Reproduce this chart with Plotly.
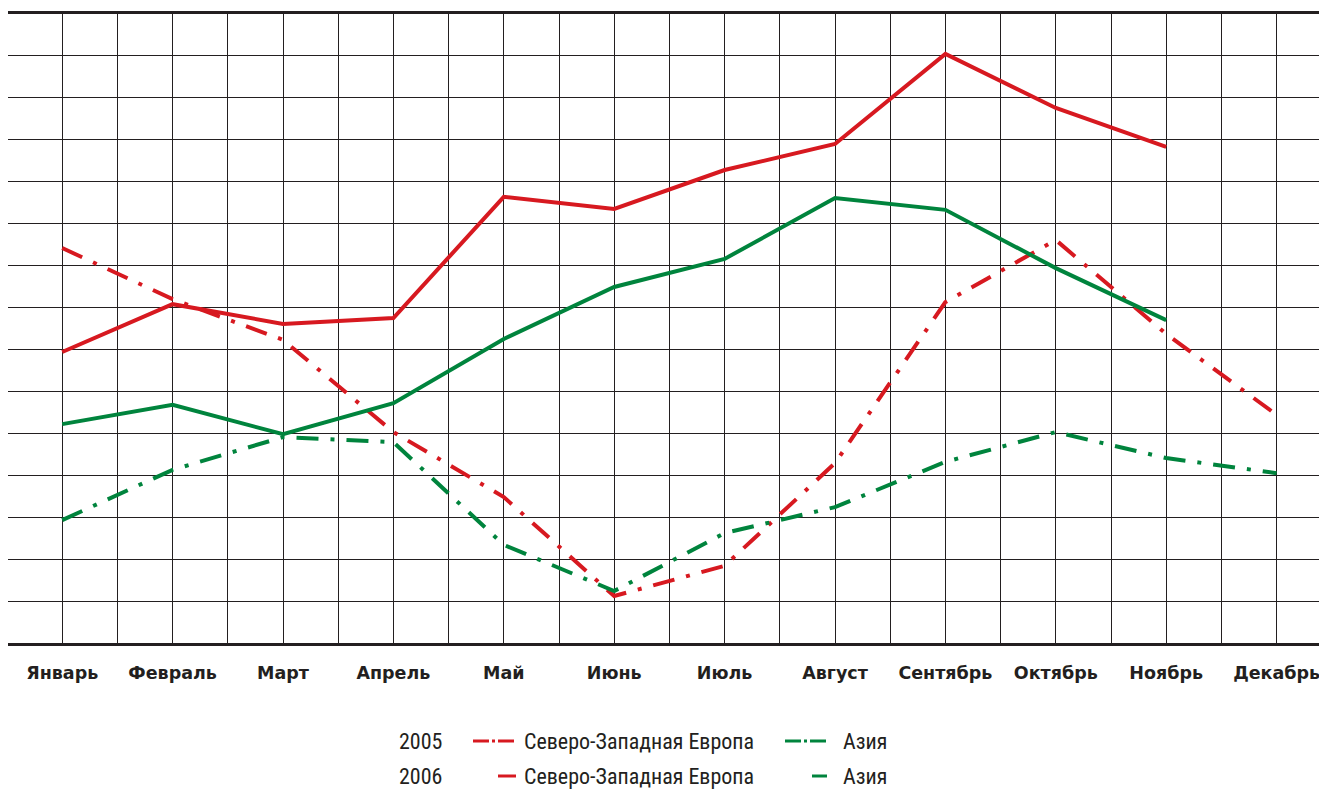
import plotly.graph_objects as go

months = ["Январь", "Февраль", "Март", "Апрель", "Май", "Июнь", "Июль",
          "Август", "Сентябрь", "Октябрь", "Ноябрь", "Декабрь"]
x_idx = list(range(12))

nwe_2005 = [9.42, 8.20, 7.23, 5.03, 3.48, 1.12, 1.84, 4.29, 8.13, 9.61, 7.37, 5.44]
asia_2005 = [2.93, 4.13, 4.91, 4.79, 2.34, 1.24, 2.62, 3.24, 4.32, 5.03, 4.41, 4.05]
nwe_2006 = [6.94, 8.08, 7.61, 7.75, 10.64, 10.35, 11.28, 11.90, 14.05, 12.76, 11.83]
asia_2006 = [5.22, 5.68, 4.98, 5.72, 7.25, 8.49, 9.16, 10.61, 10.33, 8.94, 7.70]

RED = "#d71920"
GREEN = "#00843d"
GRID = "#231f20"
DASHDOT = "22px,12px,4px,12px"
LEG_DASHDOT = "16px,3px,3px,3px"

fig = go.Figure()
fig.add_trace(go.Scatter(x=x_idx, y=nwe_2005, mode="lines",
                         line=dict(color=RED, width=4, dash=DASHDOT), showlegend=False))
fig.add_trace(go.Scatter(x=x_idx, y=asia_2005, mode="lines",
                         line=dict(color=GREEN, width=4, dash=DASHDOT), showlegend=False))
fig.add_trace(go.Scatter(x=x_idx[:len(asia_2006)], y=asia_2006, mode="lines",
                         line=dict(color=GREEN, width=4), showlegend=False))
fig.add_trace(go.Scatter(x=x_idx[:len(nwe_2006)], y=nwe_2006, mode="lines",
                         line=dict(color=RED, width=4), showlegend=False))

# page offset of the browser body margin
OFF = 8
W, H = 1327 - OFF, 792 - OFF
PLOT_LEFT, PLOT_TOP, PLOT_BOTTOM = 8, 14, 643  # page pixels
L, R = PLOT_LEFT - OFF, 0
T = PLOT_TOP - OFF
B = H - (PLOT_BOTTOM - OFF)
plot_w = W - L - R
plot_h = PLOT_BOTTOM - PLOT_TOP
month_px = 110.4
x_start = -0.5 + (PLOT_LEFT - 7) / month_px
x_end = x_start + plot_w / month_px

fig.update_layout(
    width=W, height=H,
    margin=dict(l=L, r=R, t=T, b=B, pad=0),
    paper_bgcolor="white", plot_bgcolor="white",
    xaxis=dict(
        range=[x_start, x_end], tickmode="array", tickvals=x_idx, ticktext=months,
        showgrid=True, gridcolor=GRID, gridwidth=1.3,
        minor=dict(tickmode="array", tickvals=[i + 0.5 for i in range(-1, 12)],
                   showgrid=True, gridcolor=GRID, gridwidth=1.3),
        showline=True, linecolor=GRID, linewidth=3, mirror=True,
        ticks="", zeroline=False,
        tickfont=dict(family="DejaVu Sans", size=17.5, color="#231f20", weight="bold"),
        ticklabelstandoff=12,
    ),
    yaxis=dict(
        range=[0, 15], dtick=1, tick0=0, showgrid=True, gridcolor=GRID, gridwidth=1.3,
        showticklabels=False, ticks="", zeroline=False,
        showline=True, linecolor=GRID, linewidth=3, mirror=False,
    ),
)

LEG_FONT = dict(family="Liberation Sans Narrow, Roboto Condensed, Arial Narrow, sans-serif",
                size=22, color="#231f20")


def px_x(p):
    return (p - PLOT_LEFT) / plot_w


def px_y(p):
    return (PLOT_BOTTOM - p) / plot_h


rows = [
    (741, "2005", (473, 516), (785, 827), LEG_DASHDOT),
    (776, "2006", (498, 516), (812, 827), "solid"),
]
for yc, year, rseg, gseg, dash in rows:
    for xpos, txt in ((398, year), (523, "Северо-Западная Европа"), (842, "Азия")):
        fig.add_annotation(xref="paper", yref="paper", x=px_x(xpos), y=px_y(yc),
                           text=txt, showarrow=False, xanchor="left", yanchor="middle",
                           font=LEG_FONT, borderpad=0)
    for seg, col in ((rseg, RED), (gseg, GREEN)):
        fig.add_shape(type="line", xref="paper", yref="paper",
                      x0=px_x(seg[0]), x1=px_x(seg[1]), y0=px_y(yc), y1=px_y(yc),
                      line=dict(color=col, width=3, dash=dash))

fig.write_html("out.html")
